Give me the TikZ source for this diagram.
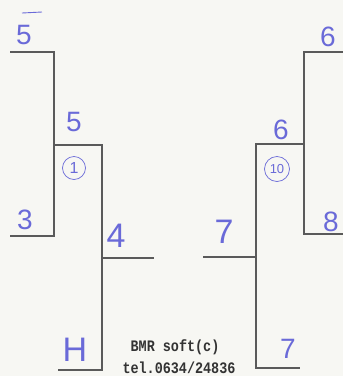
\documentclass[tikz,border=0pt]{standalone}
\usepackage{fontspec}
\setmainfont{Liberation Sans}
\newfontfamily\monofont{Liberation Mono}
\definecolor{ink}{HTML}{6A6AD8}
\definecolor{rule}{HTML}{5A5A5A}
\definecolor{paper}{HTML}{F7F7F3}
\begin{document}
\begin{tikzpicture}[x=1pt,y=-1pt,
  bline/.style={draw=rule,line width=1.1pt},
  hand/.style={text=ink,font=\fontsize{28}{28}\selectfont,inner sep=0pt},
  handbig/.style={text=ink,font=\fontsize{34}{34}\selectfont,inner sep=0pt},
  handsm/.style={text=ink,font=\fontsize{13}{13}\selectfont,inner sep=0pt},
  ring/.style={draw=ink,line width=0.7pt,circle},
  stamp/.style={font=\monofont\bfseries\fontsize{16}{16}\selectfont,text=black!80,inner sep=0pt,xscale=0.84}]
\fill[paper] (0,0) rectangle (343,376);
\useasboundingbox (0,0) rectangle (343,376);
% left bracket
\coordinate (l1a) at (10,52);   \coordinate (l1b) at (54,52);
\coordinate (l2a) at (10,236);  \coordinate (l2b) at (54,236);
\coordinate (lba) at (54,145);  \coordinate (lbb) at (102,145);
\coordinate (l3a) at (102,258); \coordinate (l3b) at (154,258);
\coordinate (l4a) at (58,370);  \coordinate (l4b) at (102,370);
\draw[bline] (l1a) -- (l1b) -- (l2b) -- (l2a);
\draw[bline] (lba) -- (lbb) -- (l4b) -- (l4a);
\draw[bline] (l3a) -- (l3b);
% right bracket
\coordinate (r1a) at (343,52);  \coordinate (r1b) at (304,52);
\coordinate (r2a) at (343,234); \coordinate (r2b) at (304,234);
\coordinate (rba) at (304,144); \coordinate (rbb) at (256,144);
\coordinate (r3a) at (203,257); \coordinate (r3b) at (256,257);
\coordinate (r4a) at (300,368); \coordinate (r4b) at (256,368);
\draw[bline] (r1a) -- (r1b) -- (r2b) -- (r2a);
\draw[bline] (rba) -- (rbb) -- (r4b) -- (r4a);
\draw[bline] (r3a) -- (r3b);
% handwritten labels
\node[hand] (n5a) at (24,35) {5};
\coordinate (bar1) at (22,13); \coordinate (bar2) at (42,12);
\draw[ink,line width=0.9pt] (bar1) -- (bar2);
\node[hand] (n5b) at (74,122) {5};
\node[ring,minimum size=23pt] (c1) at (74,168) {};
\node[handsm,font=\fontsize{16}{16}\selectfont] (c1t) at (c1) {1};
\node[hand] (n3) at (25,220) {3};
\node[handbig] (n4) at (116,236) {4};
\node[handbig] (nH) at (75,350) {H};
\node[hand] (n6a) at (328,37) {6};
\node[hand] (n6b) at (281,130) {6};
\node[ring,minimum size=25pt] (c10) at (277,169) {};
\node[handsm] (c10t) at (c10) {10};
\node[handbig] (n7a) at (224,232) {7};
\node[hand] (n8) at (331,222) {8};
\node[hand] (n7b) at (288,349) {7};
% stamp
\node[stamp] (s1) at (175,347) {BMR soft(c)};
\node[stamp] (s2) at (179,368) {tel.0634/24836};
\end{tikzpicture}
\end{document}
